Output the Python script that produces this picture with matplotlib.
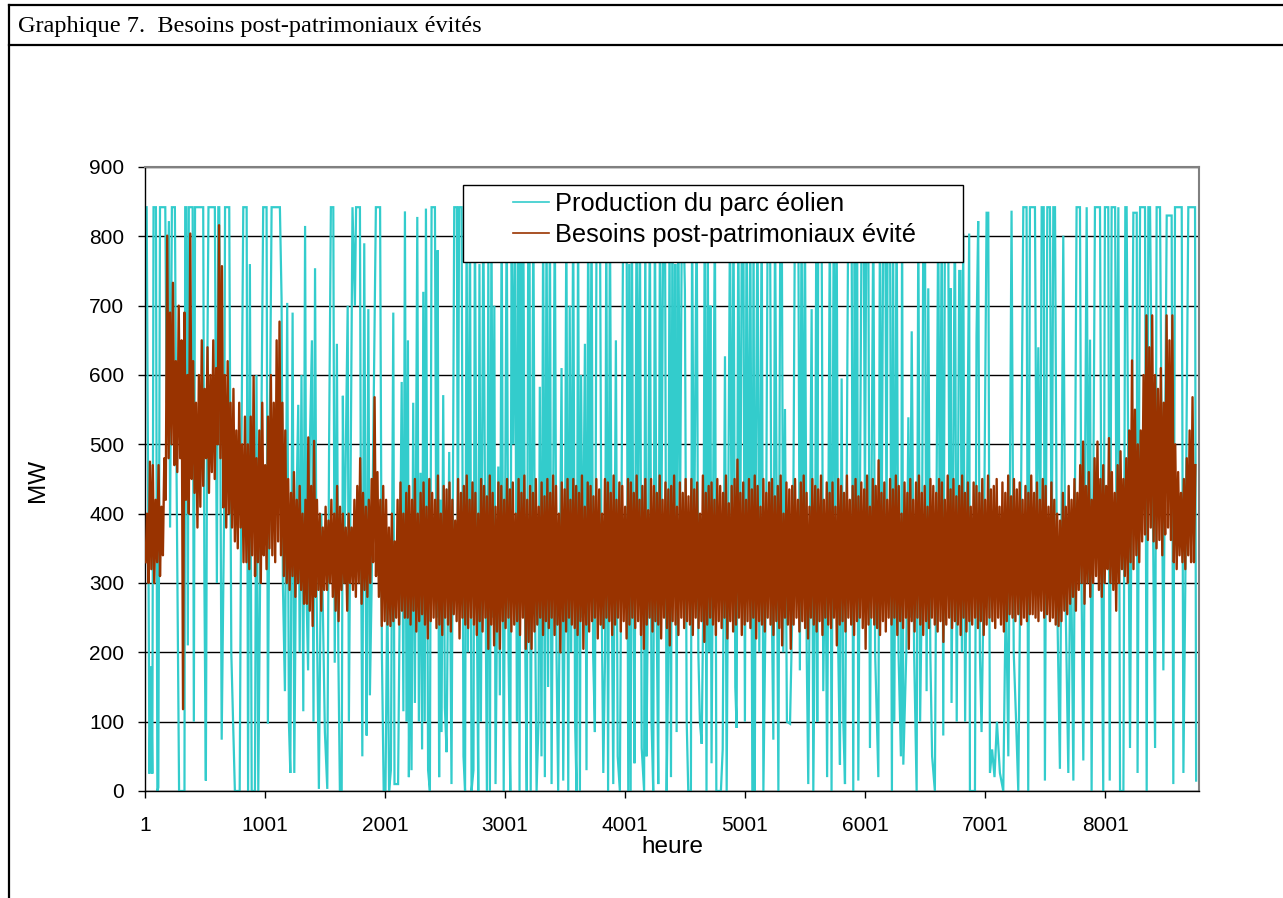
import matplotlib
matplotlib.use("Agg")
import matplotlib.pyplot as plt
from matplotlib.lines import Line2D
from matplotlib.patches import Rectangle

# ---------------- data ----------------
title_text = "Graphique 7.  Besoins post-patrimoniaux évités"
y_label = "MW"
x_label = "heure"
series_names = ["Production du parc éolien", "Besoins post-patrimoniaux évité"]
x_tick_hours = [1, 1001, 2001, 3001, 4001, 5001, 6001, 7001, 8001]
y_ticks = [0, 100, 200, 300, 400, 500, 600, 700, 800, 900]

# wind-farm production: turning points (hour, MW)
cyan_turns = [
    (1, 842), (15, 842), (30, 330), (38, 25), (52, 180), (62, 25), (72, 842), (92, 842),
    (104, 0), (112, 5), (126, 842), (170, 842), (182, 560), (200, 822), (210, 380), (225, 842),
    (250, 842), (262, 500), (285, 0), (330, 0), (336, 842), (345, 842), (358, 210), (366, 842),
    (398, 842), (408, 100), (418, 842), (486, 842), (496, 300), (508, 15), (520, 600), (530, 842),
    (583, 842), (600, 300), (612, 842), (620, 842), (640, 74), (660, 400), (668, 842), (703, 842),
    (720, 200), (750, 0), (790, 0), (805, 500), (820, 842), (848, 842), (860, 0), (875, 760),
    (890, 0), (917, 0), (930, 600), (945, 0), (960, 300), (986, 842), (1014, 842), (1025, 97),
    (1040, 500), (1056, 842), (1084, 842),
    (1125, 842), (1139, 710), (1150, 300), (1167, 144), (1186, 704), (1200, 100), (1212, 26),
    (1231, 690), (1245, 26), (1262, 400), (1278, 557), (1290, 200), (1305, 600), (1320, 115),
    (1335, 815), (1345, 300), (1360, 174), (1375, 500), (1392, 650), (1405, 100), (1418, 754),
    (1430, 300), (1450, 3), (1470, 400), (1500, 85), (1520, 3), (1535, 500), (1550, 842),
    (1570, 842), (1582, 185), (1600, 645), (1612, 200), (1625, 0), (1640, 0), (1650, 570),
    (1660, 300), (1690, 700), (1700, 100), (1730, 842), (1750, 700), (1760, 842), (1792, 842),
    (1800, 400), (1812, 50), (1828, 790), (1840, 300), (1848, 80), (1862, 695), (1875, 138),
    (1890, 300), (1925, 842), (1960, 842), (1975, 200), (1990, 0), (2005, 0), (2020, 300),
    (2035, 0), (2050, 30), (2070, 690), (2080, 10), (2110, 10), (2125, 300), (2140, 590),
    (2154, 115),
    (2167, 836), (2180, 100), (2192, 650), (2200, 20), (2212, 380), (2222, 30), (2236, 560),
    (2250, 127), (2270, 828), (2283, 100), (2297, 459), (2310, 60), (2320, 720), (2332, 100),
    (2342, 840), (2360, 30), (2375, 0), (2389, 842), (2417, 842), (2430, 250), (2440, 780),
    (2452, 20), (2462, 420), (2472, 85), (2486, 571), (2500, 120), (2514, 56), (2536, 489),
    (2555, 10), (2578, 842), (2600, 842), (2608, 300), (2618, 842), (2639, 842), (2655, 50),
    (2668, 0), (2681, 842), (2692, 200), (2709, 842), (2722, 0), (2738, 30), (2750, 842),
    (2765, 300), (2778, 0), (2788, 760), (2800, 100), (2820, 842), (2835, 400), (2850, 0),
    (2862, 780), (2875, 0), (2888, 842), (2900, 250), (2912, 700), (2922, 10), (2945, 468),
    (2958, 138), (2973, 842), (2990, 0), (3015, 842), (3030, 200), (3045, 0), (3056, 842),
    (3070, 500), (3084, 842), (3100, 100), (3110, 842), (3122, 0), (3132, 842), (3142, 300),
    (3153, 842), (3170, 200), (3182, 0), (3195, 842), (3205, 842), (3215, 0), (3237, 842),
    (3250, 300),
    (3264, 0), (3280, 100), (3291, 583), (3305, 50), (3319, 842), (3333, 20), (3347, 842),
    (3360, 150), (3375, 842), (3389, 10), (3416, 842), (3430, 200), (3444, 0), (3472, 610),
    (3486, 15), (3500, 300), (3512, 842), (3528, 0), (3540, 700), (3552, 200), (3569, 842),
    (3585, 100), (3597, 0), (3610, 842), (3625, 0), (3635, 600), (3648, 250), (3667, 645),
    (3680, 30), (3694, 842), (3708, 300), (3722, 842), (3735, 200), (3750, 85), (3764, 842),
    (3792, 842), (3805, 300), (3820, 26), (3835, 200), (3845, 842), (3860, 0), (3875, 842),
    (3890, 300), (3903, 10), (3925, 650), (3940, 50), (3958, 0), (3986, 842), (4014, 842),
    (4028, 0), (4036, 760), (4048, 0), (4058, 842), (4070, 300), (4080, 40), (4097, 842),
    (4110, 400), (4125, 842), (4140, 62), (4160, 0), (4170, 842), (4180, 50), (4192, 300),
    (4208, 842), (4222, 100), (4236, 0), (4250, 842), (4265, 250), (4278, 10), (4292, 842),
    (4305, 400), (4320, 842),
    (4334, 842), (4348, 0), (4362, 200), (4372, 842), (4384, 20), (4396, 842), (4410, 300),
    (4420, 760), (4431, 85), (4445, 842), (4460, 400), (4475, 842), (4487, 842), (4500, 722),
    (4515, 100), (4528, 0), (4550, 0), (4560, 842), (4575, 300), (4598, 842), (4612, 200),
    (4625, 100), (4640, 68), (4655, 300), (4665, 842), (4680, 0), (4690, 842), (4702, 200),
    (4712, 700), (4722, 40), (4750, 842), (4762, 0), (4800, 0), (4815, 60), (4834, 627),
    (4848, 0), (4876, 842), (4890, 300), (4905, 842), (4920, 150), (4931, 91), (4945, 842),
    (4960, 300), (4975, 842), (4987, 842), (5000, 100), (5014, 842), (5030, 300), (5045, 842),
    (5062, 0), (5072, 842), (5082, 0), (5092, 500), (5105, 842), (5120, 200), (5140, 842),
    (5154, 0), (5175, 300), (5190, 842), (5209, 842), (5222, 300), (5237, 74), (5251, 842),
    (5265, 400), (5279, 0), (5295, 842), (5307, 842), (5320, 200), (5334, 551), (5350, 100),
    (5376, 97),
    (5400, 300), (5417, 842), (5445, 842), (5458, 174), (5472, 842), (5486, 300), (5500, 842),
    (5515, 200), (5528, 10), (5556, 695), (5570, 0), (5585, 300), (5595, 842), (5603, 100),
    (5611, 842), (5639, 842), (5653, 144), (5670, 400), (5685, 20), (5708, 842), (5722, 0),
    (5740, 842), (5752, 400), (5764, 842), (5778, 200), (5792, 38), (5806, 595), (5820, 100),
    (5834, 10), (5861, 842), (5889, 842), (5903, 0), (5915, 842), (5925, 300), (5935, 842),
    (5945, 15), (5973, 842), (5990, 842), (6000, 400), (6012, 842), (6028, 842), (6042, 62),
    (6070, 842), (6085, 200), (6112, 20), (6125, 842), (6138, 300), (6153, 842), (6170, 842),
    (6180, 350), (6190, 842), (6209, 842), (6225, 0), (6235, 842), (6245, 100), (6264, 842),
    (6280, 200), (6300, 50), (6310, 842), (6320, 38), (6345, 200), (6362, 539), (6375, 250),
    (6390, 663), (6410, 200), (6431, 0), (6445, 842), (6460, 100), (6475, 300), (6487, 842),
    (6500, 842), (6514, 144), (6528, 725), (6545, 200), (6560, 50), (6583, 0), (6611, 842),
    (6625, 300), (6640, 842), (6653, 80), (6667, 842), (6680, 842), (6694, 842), (6705, 300),
    (6714, 725), (6722, 127), (6750, 842), (6765, 100), (6786, 750), (6797, 750), (6808, 200),
    (6819, 804), (6835, 100), (6850, 400), (6869, 804), (6875, 0), (6917, 0), (6930, 657),
    (6944, 822), (6958, 200), (6972, 85), (6990, 300), (7014, 834), (7028, 834), (7042, 26),
    (7060, 60), (7080, 20), (7100, 100), (7125, 26), (7153, 0), (7175, 300), (7195, 50),
    (7222, 837), (7240, 200), (7260, 100), (7278, 0), (7300, 400), (7320, 842), (7347, 842),
    (7361, 0), (7375, 842), (7417, 842), (7430, 400), (7445, 640), (7460, 300), (7473, 842),
    (7490, 842), (7500, 15), (7520, 842), (7542, 842),
    (7556, 290), (7570, 842), (7584, 842), (7600, 300), (7625, 32), (7653, 801), (7670, 300),
    (7695, 26), (7715, 400), (7737, 15), (7764, 842), (7792, 842), (7805, 300), (7820, 44),
    (7848, 842), (7862, 300), (7876, 651), (7889, 0), (7917, 842), (7959, 842), (7972, 300),
    (7986, 0), (8000, 842), (8028, 842), (8040, 15), (8056, 842), (8085, 842), (8095, 400),
    (8112, 842), (8126, 0), (8154, 0), (8170, 842), (8181, 842), (8209, 62), (8237, 834),
    (8265, 834), (8272, 26), (8293, 842), (8334, 842), (8348, 0), (8362, 842), (8376, 842),
    (8418, 62), (8431, 842), (8459, 842), (8487, 174), (8515, 830), (8556, 830), (8570, 10),
    (8584, 842), (8640, 842), (8654, 26), (8670, 300), (8695, 842), (8751, 842), (8760, 15),
]

# avoided post-heritage needs: daily maximum and minimum (MW), day 1 .. day 365
brown_daily_max = [
    400, 475, 470, 420, 470, 410, 480,
    801, 690, 733, 620, 700, 650, 690,
    600, 804, 620, 560, 600, 650, 580,
    640, 600, 650, 610, 816, 757, 600,
    620, 560, 580, 520, 560, 500, 540,
    500, 540, 598, 480, 520, 560, 470,
    540, 600, 560, 650, 677, 560, 520,
    450, 430, 460, 420, 440, 400, 420,
    510, 440, 505, 420, 400, 380, 410,
    390, 420, 400, 440, 410, 400, 380,
    400, 380, 420, 440, 480, 430, 410,
    420, 450, 568, 460, 420, 440, 420,
    380, 400, 360, 420, 445, 400, 430,
    440, 420, 450, 400, 430, 445, 410,
    450, 430, 420, 455, 400, 440, 435,
    445, 420, 390, 450, 430, 440, 455,
    420, 445, 430, 400, 450, 440, 425,
    455, 430, 410, 445, 440, 420, 450,
    435, 445, 400, 450, 430, 455, 420,
    440, 430, 450, 410, 445, 425, 450,
    430, 455, 440, 400, 445, 435, 450,
    420, 450, 440, 430, 455, 410, 445,
    440, 425, 450, 435, 400, 450, 445,
    430, 455, 420, 445, 440, 410, 450,
    445, 430, 455, 420, 440, 450, 405,
    450, 440, 430, 455, 420, 445, 435,
    440, 455, 410, 445, 430, 450, 425,
    450, 435, 445, 400, 455, 430, 440,
    445, 420, 450, 440, 430, 455, 415,
    440, 450, 478, 430, 445, 420, 450,
    435, 455, 440, 410, 450, 430, 445,
    450, 425, 440, 455, 400, 445, 435,
    440, 450, 420, 445, 455, 430, 410,
    450, 440, 435, 455, 420, 445, 430,
    445, 410, 450, 440, 430, 455, 420,
    440, 450, 425, 445, 435, 455, 410,
    450, 440, 477, 430, 445, 420, 450,
    435, 455, 440, 400, 445, 430, 450,
    420, 445, 455, 430, 440, 410, 450,
    440, 430, 450, 445, 420, 455, 435,
    450, 425, 440, 455, 430, 445, 410,
    445, 440, 430, 450, 420, 455, 435,
    440, 450, 410, 445, 430, 455, 425,
    450, 435, 445, 420, 440, 430, 455,
    430, 445, 420, 450, 440, 410, 445,
    420, 400, 390, 430, 410, 440, 420,
    450, 430, 470, 504, 440, 460, 420,
    480, 504, 450, 470, 440, 509, 460,
    430, 470, 490, 450, 480, 520, 621,
    550, 500, 520, 600, 686, 640, 686,
    600, 580, 610, 560, 686, 650, 686,
    500, 460, 430, 450, 480, 520, 568,
    470,
]
brown_daily_min = [
    330, 300, 320, 300, 330, 310, 340,
    420, 480, 500, 470, 460, 480, 118,
    420, 400, 450, 430, 380, 410, 440,
    480, 430, 460, 450, 500, 480, 409,
    380, 400, 380, 360, 350, 380, 330,
    330, 320, 340, 310, 330, 300, 340,
    320, 350, 340, 330, 360, 340, 310,
    300, 290, 310, 280, 300, 290, 270,
    270, 260, 238, 280, 290, 260, 290,
    290, 300, 280, 260, 245, 290, 300,
    260, 300, 290, 280, 300, 270, 290,
    280, 300, 330, 310, 280, 238, 245,
    240, 238, 245, 250, 240, 260, 250,
    250, 240, 260, 230, 245, 255, 240,
    220, 245, 250, 235, 240, 225, 250,
    240, 230, 255, 245, 220, 250, 240,
    235, 250, 240, 225, 245, 230, 250,
    205, 240, 210, 230, 205, 245, 235,
    250, 230, 240, 245, 225, 250, 205,
    215, 205, 230, 240, 250, 225, 245,
    235, 250, 225, 240, 200, 245, 230,
    250, 240, 235, 225, 245, 205, 240,
    230, 245, 250, 220, 240, 235, 250,
    245, 225, 240, 250, 230, 245, 220,
    240, 250, 235, 245, 225, 205, 240,
    250, 230, 245, 240, 220, 250, 235,
    210, 245, 240, 225, 250, 235, 245,
    240, 225, 250, 235, 245, 215, 240,
    250, 240, 225, 245, 235, 250, 220,
    245, 230, 240, 250, 225, 240, 245,
    235, 250, 220, 245, 240, 230, 250,
    240, 225, 245, 235, 210, 250, 240,
    205, 240, 250, 230, 245, 235, 220,
    250, 240, 230, 245, 225, 250, 240,
    235, 250, 210, 240, 245, 230, 250,
    240, 225, 245, 250, 235, 205, 240,
    250, 240, 235, 225, 245, 230, 250,
    240, 250, 225, 245, 235, 250, 205,
    245, 230, 250, 240, 225, 245, 235,
    250, 240, 230, 245, 215, 240, 250,
    235, 245, 240, 225, 250, 230, 245,
    240, 250, 235, 245, 225, 240, 250,
    245, 235, 250, 240, 230, 245, 255,
    250, 245, 255, 240, 250, 245, 255,
    255, 250, 245, 260, 250, 255, 245,
    250, 240, 238, 245, 260, 255, 270,
    280, 260, 290, 300, 270, 300, 280,
    300, 310, 290, 280, 300, 320, 300,
    290, 260, 300, 320, 310, 300, 330,
    320, 340, 330, 360, 370, 362, 380,
    360, 350, 362, 340, 370, 380, 362,
    330, 320, 340, 330, 320, 340, 330,
    330,
]

# ---------------- figure ----------------
W, H = 1283, 898
fig = plt.figure(figsize=(W / 100, H / 100), dpi=100)


def fx(px):
    return px / W


def fy(py):
    return 1 - py / H


SANS = "Liberation Sans"
SERIF = "Liberation Serif"
CYAN = "#33CCCC"
BROWN = "#993300"

ax = fig.add_axes([fx(145), fy(791), fx(1199) - fx(145), fy(167) - fy(791)])

cx = [p[0] for p in cyan_turns]
cy = [p[1] for p in cyan_turns]
ax.plot(cx, cy, color=CYAN, lw=1.6, zorder=2, label=series_names[0],
        solid_joinstyle="miter")

n_days = min(len(brown_daily_max), len(brown_daily_min))
bx, by = [], []
for d in range(n_days):
    bx += [24 * d + 6, 24 * d + 18]
    by += [brown_daily_min[d], brown_daily_max[d]]
ax.plot(bx, by, color=BROWN, lw=1.7, zorder=3, label=series_names[1])

ax.set_xlim(1, 8784)
ax.set_ylim(0, 900)
ax.set_yticks(y_ticks)
ax.set_yticklabels([str(v) for v in y_ticks], family=SANS, fontsize=15)
ax.set_xticks(x_tick_hours)
ax.set_xticklabels([str(v) for v in x_tick_hours], family=SANS, fontsize=15)
ax.grid(axis="y", color="black", lw=1.0)
ax.set_axisbelow(True)

for s in ["top", "right"]:
    ax.spines[s].set_color("#808080")
    ax.spines[s].set_linewidth(1.5)
for s in ["left", "bottom"]:
    ax.spines[s].set_color("#000000")
    ax.spines[s].set_linewidth(1.0)

ax.tick_params(axis="y", direction="out", length=5, width=1, pad=10)
ax.tick_params(axis="x", direction="out", length=5, width=1, pad=13)

# legend
ax.add_patch(Rectangle(((463 - 145) / 1054, (791 - 262) / 624), 500 / 1054, 77 / 624,
                       transform=ax.transAxes, facecolor="white", edgecolor="black",
                       lw=1.0, zorder=4))
leg = ax.legend(loc="upper left", bbox_to_anchor=((513 - 145) / 1054, (791 - 192) / 624),
                frameon=False, prop={"family": SANS, "size": 18.3}, handlelength=1.42,
                handletextpad=0.25, labelspacing=0.26, borderpad=0, borderaxespad=0)
leg.set_zorder(5)
for line in leg.get_lines():
    line.set_linewidth(1.2)

fig.text(fx(38), fy(480), y_label, rotation=90, ha="center", va="center",
         family=SANS, fontsize=17.5)
fig.text(fx(672), fy(847), x_label, ha="center", va="center", family=SANS, fontsize=17.5)

fig.text(fx(18), fy(32), title_text, ha="left", va="baseline", family=SERIF, fontsize=17.5)

# page frame
for (x0, y0, x1, y1) in [(9, 5, W, 5), (9, 45, W, 45), (9, 5, 9, H)]:
    fig.add_artist(Line2D([fx(x0), fx(x1)], [fy(y0), fy(y1)], transform=fig.transFigure,
                          color="black", lw=1.6))

fig.savefig("out.png", dpi=100)
